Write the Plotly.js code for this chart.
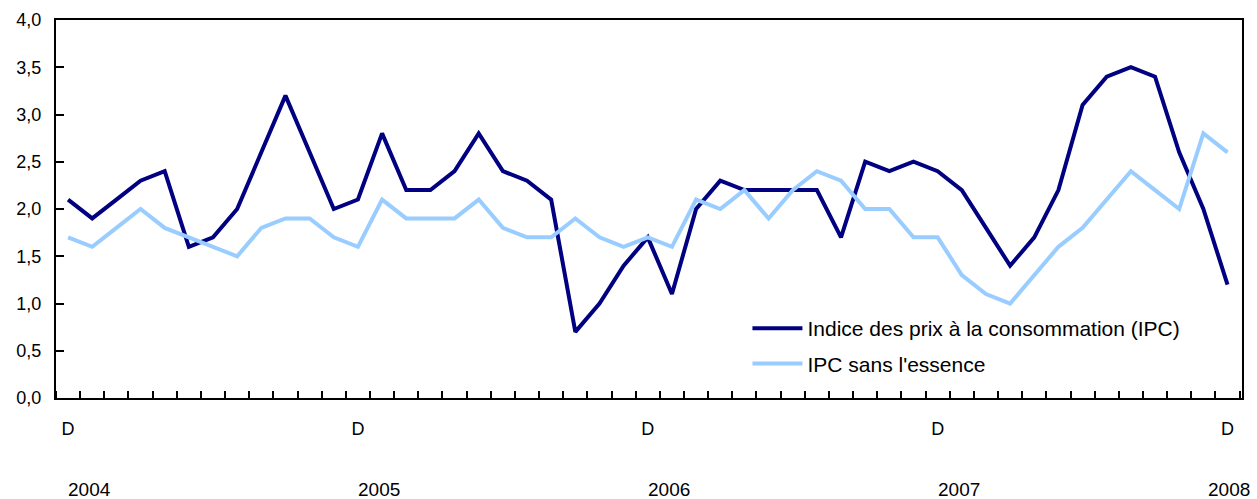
<!DOCTYPE html>
<html>
<head>
<meta charset="utf-8">
<script src="https://cdn.plot.ly/plotly-3.0.1.min.js"></script>
<style>html,body{margin:0;padding:0;background:#fff;}#chart{width:1257px;height:499px;}</style>
</head>
<body>
<div id="chart"></div>
<script>
// Monthly points, December 2003 ... December 2007 (49 months)
var ipc = [2.1,1.9,2.1,2.3,2.4,1.6,1.7,2.0,2.6,3.2,2.6,2.0,
           2.1,2.8,2.2,2.2,2.4,2.8,2.4,2.3,2.1,0.7,1.0,1.4,
           1.7,1.1,2.0,2.3,2.2,2.2,2.2,2.2,1.7,2.5,2.4,2.5,
           2.4,2.2,1.8,1.4,1.7,2.2,3.1,3.4,3.5,3.4,2.6,2.0,
           1.2];
var ipcSansEssence = [1.7,1.6,1.8,2.0,1.8,1.7,1.6,1.5,1.8,1.9,1.9,1.7,
                      1.6,2.1,1.9,1.9,1.9,2.1,1.8,1.7,1.7,1.9,1.7,1.6,
                      1.7,1.6,2.1,2.0,2.2,1.9,2.2,2.4,2.3,2.0,2.0,1.7,
                      1.7,1.3,1.1,1.0,1.3,1.6,1.8,2.1,2.4,2.2,2.0,2.8,
                      2.6];
var seriesNames = ['Indice des prix à la consommation (IPC)', "IPC sans l'essence"];
var monthLabelPositions = [0, 12, 24, 36, 48];
var monthLabels = ['D', 'D', 'D', 'D', 'D'];
var yearLabels = ['2004', '2005', '2006', '2007', '2008'];

var months = ipc.map(function(_, i){ return i; });
var font = 'Liberation Sans, Arial, sans-serif';

var traces = [
  {x: months, y: ipc, type: 'scatter', mode: 'lines', name: seriesNames[0],
   line: {color: '#000080', width: 4}, legendgroup: 'a'},
  {x: months, y: ipcSansEssence, type: 'scatter', mode: 'lines', name: seriesNames[1],
   line: {color: '#99CCFF', width: 4}, legendgroup: 'b'}
];

var annotations = yearLabels.map(function(t, i){
  var last = i === yearLabels.length - 1;
  return {x: monthLabelPositions[i], y: 0, xref: 'x', yref: 'paper', text: t, showarrow: false,
          xanchor: last ? 'right' : 'left', yanchor: 'middle',
          xshift: last ? 24 : -2, yshift: -91,
          font: {family: font, size: 19, color: '#000'}};
});

var layout = {
  width: 1257, height: 499,
  margin: {l: 56, r: 15, t: 20, b: 101},
  paper_bgcolor: '#fff', plot_bgcolor: '#fff',
  separators: ', ',
  showlegend: true,
  legend: {x: 0.583, y: 0.238, xanchor: 'left', yanchor: 'top', bgcolor: 'rgba(0,0,0,0)',
           font: {family: font, size: 21, color: '#000'}, tracegroupgap: 5, itemwidth: 50},
  xaxis: {range: [-0.5, 48.6], showgrid: false, zeroline: false,
          showline: true, linecolor: '#000', linewidth: 2, mirror: true,
          tickmode: 'array', tickvals: monthLabelPositions, ticktext: monthLabels, ticks: '',
          tickfont: {family: font, size: 18, color: '#000'}, ticklabelstandoff: 13,
          minor: {tick0: 0.5, dtick: 1, ticks: 'inside', ticklen: 7, tickwidth: 2, tickcolor: '#000', showgrid: false}},
  yaxis: {range: [0, 4], dtick: 0.5, tickformat: '.1f', showgrid: false, zeroline: false,
          showline: true, linecolor: '#000', linewidth: 2, mirror: true,
          ticks: 'inside', ticklen: 8, tickwidth: 2, tickcolor: '#000', ticklabelstandoff: 9,
          tickfont: {family: font, size: 18, color: '#000'}},
  annotations: annotations
};

Plotly.newPlot('chart', traces, layout, {displayModeBar: false, staticPlot: true});
</script>
</body>
</html>
